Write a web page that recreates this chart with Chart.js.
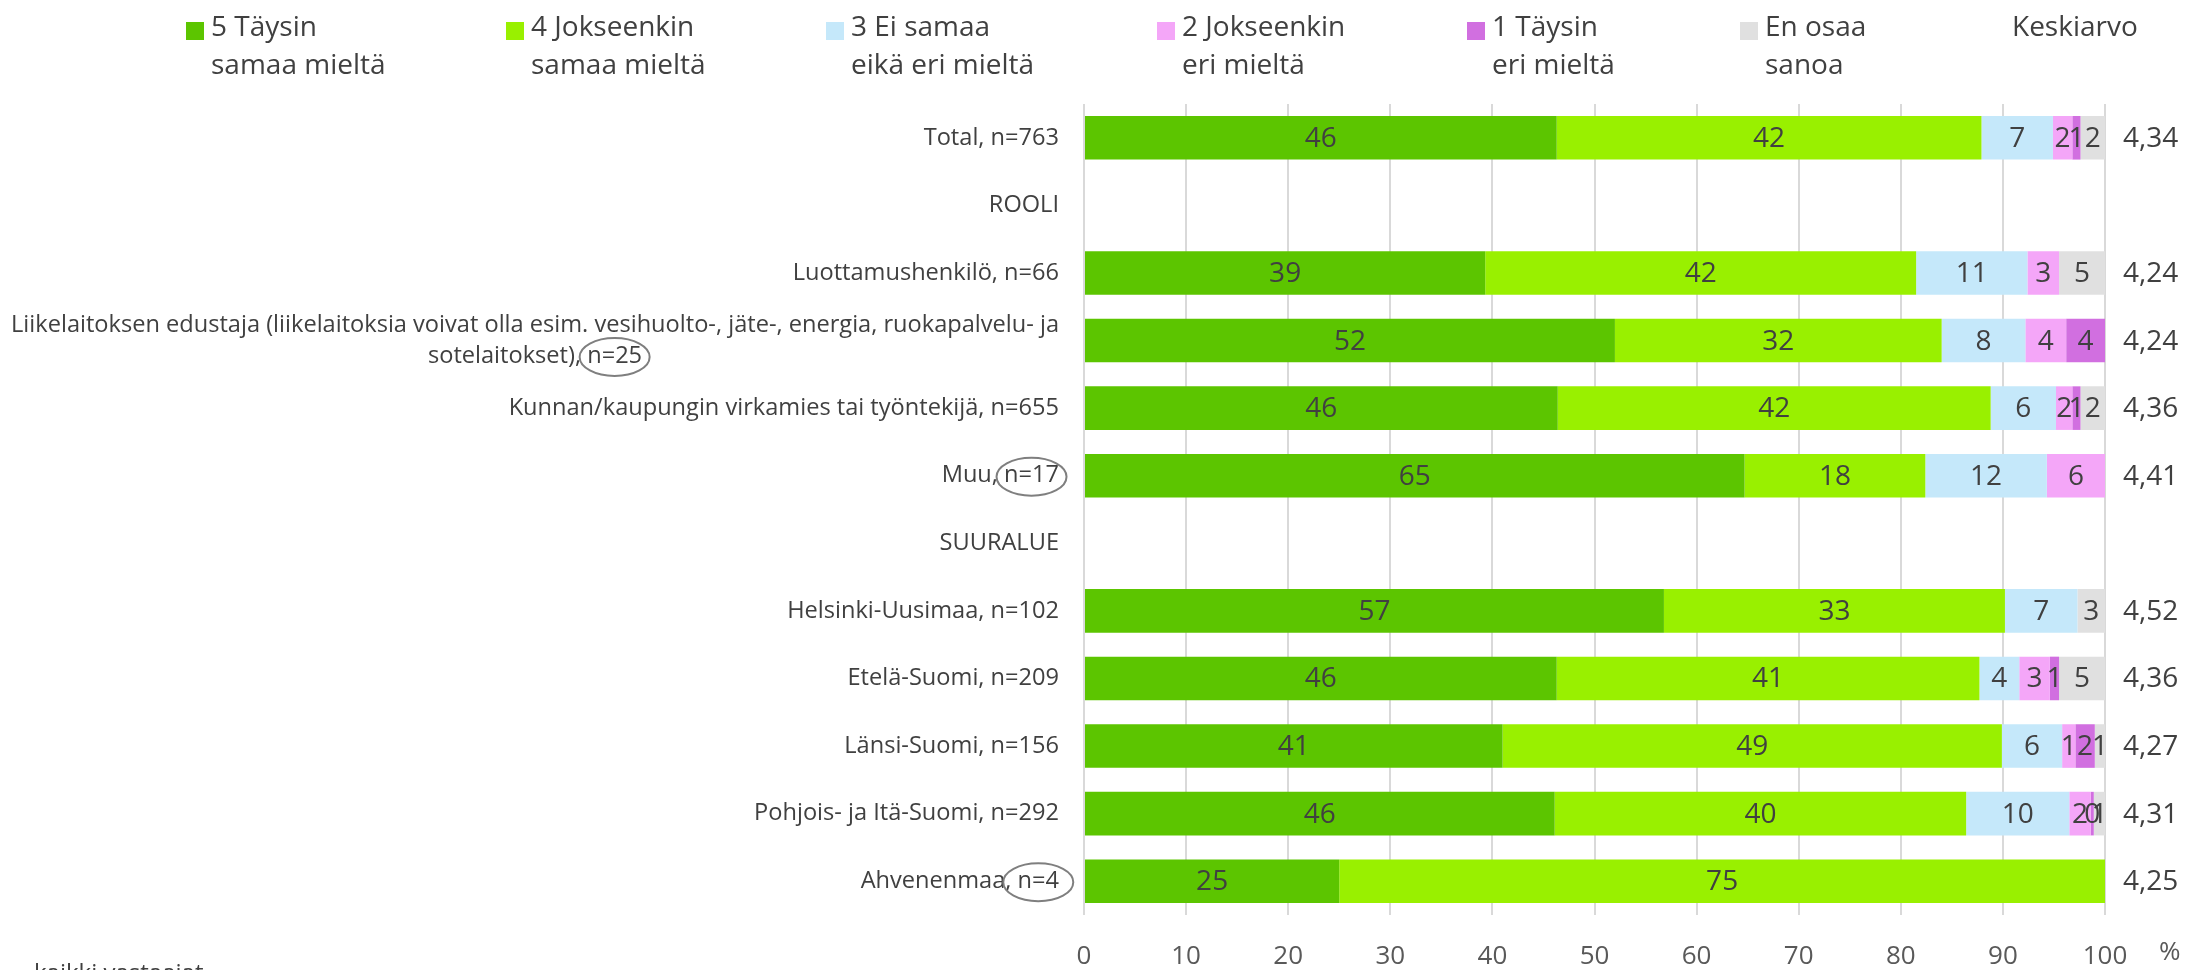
<!DOCTYPE html>
<html lang="fi">
<head>
<meta charset="utf-8">
<title>Vastausjakaumat</title>
<script src="https://cdn.jsdelivr.net/npm/chart.js@4.4.1/dist/chart.umd.min.js"></script>
<style>
  html, body { margin: 0; padding: 0; background: #fff; }
  #wrap { position: relative; width: 2208px; height: 970px; overflow: hidden; }
  #chart { position: absolute; left: 0; top: 0; }
  #legend { position: absolute; left: 0; top: 0; width: 2208px; height: 100px;
            font-family: 'Open Sans', sans-serif; font-size: 28px; color: #404040; }
  .item { position: absolute; top: 6px; line-height: 38px; white-space: nowrap; }
  .box { position: absolute; left: 0; top: 16px; width: 18px; height: 18px; }
  .txt { position: absolute; left: 25px; top: 0; }
</style>
</head>
<body>
<div id="wrap">
  <canvas id="chart" width="2208" height="970"></canvas>
  <div id="legend"></div>
</div>
<script>
const FONT = "'Open Sans', sans-serif";

const categories = [
    ["Total, n=763"],
    ["ROOLI"],
    ["Luottamushenkilö, n=66"],
    ["Liikelaitoksen edustaja (liikelaitoksia voivat olla esim. vesihuolto-, jäte-, energia, ruokapalvelu- ja",
     "sotelaitokset), n=25"],
    ["Kunnan/kaupungin virkamies tai työntekijä, n=655"],
    ["Muu, n=17"],
    ["SUURALUE"],
    ["Helsinki-Uusimaa, n=102"],
    ["Etelä-Suomi, n=209"],
    ["Länsi-Suomi, n=156"],
    ["Pohjois- ja Itä-Suomi, n=292"],
    ["Ahvenenmaa, n=4"]
];
// rows whose small n is circled
const circled = [3, 5, 11];

const seriesNames = [
    ["5 Täysin", "samaa mieltä"],
    ["4 Jokseenkin", "samaa mieltä"],
    ["3 Ei samaa", "eikä eri mieltä"],
    ["2 Jokseenkin", "eri mieltä"],
    ["1 Täysin", "eri mieltä"],
    ["En osaa", "sanoa"]
];
const seriesColors = ["#5CC500", "#99F000", "#C5E8FA", "#F4A6F8", "#D16FE0", "#E0E0E0"];

const s5  = [46.3, null, 39.3, 52.0, 46.4, 64.7, null, 56.8, 46.3, 41.0, 46.1, 25];
const s4  = [41.6, null, 42.2, 32.0, 42.4, 17.7, null, 33.4, 41.4, 48.9, 40.3, 75];
const s3  = [7.0,  null, 10.9, 8.2,  6.4,  11.9, null, 7.1,  3.9,  5.9,  10.1, 0];
const s2  = [1.9,  null, 3.1,  4.0,  1.6,  5.7,  null, 0,    3.0,  1.3,  2.1,  0];
const s1  = [0.8,  null, 0,    3.8,  0.8,  0,    null, 0,    0.9,  1.9,  0.3,  0];
const eos = [2.4,  null, 4.5,  0,    2.4,  0,    null, 2.7,  4.5,  1.0,  1.1,  0];

const keskiarvo = [4.34, null, 4.24, 4.24, 4.36, 4.41, null, 4.52, 4.36, 4.27, 4.31, 4.25];

const xTicks = [0, 10, 20, 30, 40, 50, 60, 70, 80, 90, 100];

const seriesData = [s5, s4, s3, s2, s1, eos];

const extraText = {
    id: "extraText",
    afterDatasetsDraw(chart) {
        const ctx = chart.ctx;
        const yScale = chart.scales.y;
        const area = chart.chartArea;
        ctx.save();

        // values inside the bars
        ctx.font = "28px " + FONT;
        ctx.fillStyle = "#404040";
        ctx.textAlign = "center";
        ctx.textBaseline = "middle";
        chart.data.datasets.forEach((ds, di) => {
            chart.getDatasetMeta(di).data.forEach((bar, i) => {
                const v = ds.data[i];
                if (v === null || v === 0) return;
                ctx.fillText(String(Math.round(v)), (bar.x + bar.base) / 2, bar.y + 1);
            });
        });

        // category labels, wrapped lines centred on each other
        ctx.font = "23.6px " + FONT;
        const right = area.left - 25;
        const lh = 31;
        categories.forEach((lines, i) => {
            const cy = yScale.getPixelForValue(i);
            const widths = lines.map(l => ctx.measureText(l).width);
            const maxW = Math.max(...widths);
            const cx = right - maxW / 2;
            lines.forEach((l, k) => {
                const ly = cy + (k - (lines.length - 1) / 2) * lh;
                ctx.fillText(l, cx, ly);
                if (k === lines.length - 1 && circled.includes(i)) {
                    const nText = l.slice(l.lastIndexOf("n="));
                    const nw = ctx.measureText(nText).width;
                    const ex = cx + widths[k] / 2 - nw / 2;
                    ctx.save();
                    ctx.strokeStyle = "#7F7F7F";
                    ctx.lineWidth = 2;
                    ctx.beginPath();
                    ctx.ellipse(ex, ly + 1, 35, 19, 0, 0, Math.PI * 2);
                    ctx.stroke();
                    ctx.restore();
                }
            });
        });

        // Keskiarvo column
        ctx.font = "28px " + FONT;
        ctx.textAlign = "left";
        keskiarvo.forEach((v, i) => {
            if (v === null) return;
            ctx.fillText(v.toFixed(2).replace(".", ","), area.right + 18, yScale.getPixelForValue(i) + 1);
        });

        // axis unit
        ctx.font = "26px " + FONT;
        ctx.fillStyle = "#595959";
        ctx.fillText("%", area.right + 54, 953);

        // cut-off base note at the bottom
        ctx.font = "24px " + FONT;
        ctx.fillStyle = "#404040";
        ctx.textBaseline = "top";
        ctx.fillText("kaikki vastaajat", 34, 962);

        ctx.restore();
    }
};

const chart = new Chart(document.getElementById("chart"), {
    type: "bar",
    data: {
        labels: categories.map(c => c.join(" ")),
        datasets: seriesData.map((d, i) => ({
            label: seriesNames[i].join(" "),
            data: d,
            backgroundColor: seriesColors[i],
            borderWidth: 0,
            barPercentage: 0.645,
            categoryPercentage: 1
        }))
    },
    options: {
        responsive: false,
        animation: false,
        indexAxis: "y",
        layout: { padding: { left: 1084, right: 103, top: 104, bottom: 0 } },
        plugins: {
            legend: { display: false },
            tooltip: { enabled: false }
        },
        scales: {
            x: {
                stacked: true,
                min: 0,
                max: 100,
                afterBuildTicks: (scale) => { scale.ticks = xTicks.map(v => ({ value: v })); },
                afterFit: (scale) => { scale.height = 55; },
                ticks: {
                    color: "#595959",
                    font: { family: FONT, size: 26 },
                    padding: 26
                },
                grid: { color: "#D9D9D9", lineWidth: 2, drawTicks: false },
                border: { display: false }
            },
            y: {
                stacked: true,
                display: false
            }
        }
    },
    plugins: [extraText]
});

// legend in html, built from the datasets
const legend = document.getElementById("legend");
const legendX = [186, 506, 826, 1157, 1467, 1740];
chart.data.datasets.forEach((ds, i) => {
    const item = document.createElement("div");
    item.className = "item";
    item.style.left = legendX[i] + "px";
    item.innerHTML = '<span class="box" style="background:' + ds.backgroundColor + '"></span>' +
        '<span class="txt">' + seriesNames[i].join("<br>") + "</span>";
    legend.appendChild(item);
});
const kHead = document.createElement("div");
kHead.className = "item";
kHead.style.left = "2012px";
kHead.textContent = "Keskiarvo";
legend.appendChild(kHead);
</script>
</body>
</html>
